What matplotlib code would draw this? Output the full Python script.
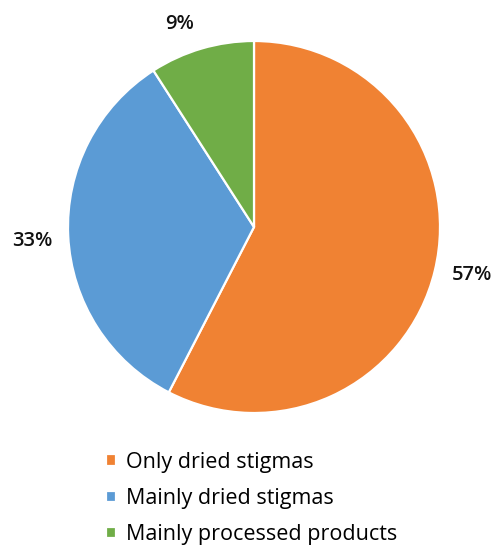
import matplotlib
matplotlib.use("Agg")
import matplotlib.pyplot as plt

categories = ["Only dried stigmas", "Mainly dried stigmas", "Mainly processed products"]
shares = [57, 33, 9]
colors = ["#F08233", "#5B9BD5", "#70AD47"]

plt.rcParams["font.family"] = ["Open Sans", "DejaVu Sans"]

W, H = 495, 548
fig = plt.figure(figsize=(W / 100, H / 100), dpi=100)
cx, cy, R = 254, 227, 186
ax = fig.add_axes([(cx - R) / W, (H - cy - R) / H, 2 * R / W, 2 * R / H])

wedges, _ = ax.pie(
    shares,
    colors=colors,
    startangle=90,
    counterclock=False,
    radius=1.0,
    wedgeprops=dict(edgecolor="white", linewidth=1.6),
)
ax.set_xlim(-1, 1)
ax.set_ylim(-1, 1)
ax.set_aspect("equal")

# percentage labels placed just outside each wedge
label_pos = [(1.17, -0.26), (-1.19, -0.075), (-0.40, 1.09)]
for v, (x, y) in zip(shares, label_pos):
    ax.text(x, y, f"{v}%", ha="center", va="center", fontsize=14.5,
            fontweight="semibold", color="#111111", clip_on=False)

fig.legend(
    wedges, categories,
    loc="upper left", bbox_to_anchor=(106 / W, 1 - 452 / H),
    frameon=False, fontsize=15.5,
    handlelength=0.46, handleheight=0.46, handletextpad=0.45,
    labelspacing=0.7, borderpad=0.0, borderaxespad=0.0,
)

fig.savefig("out.png", dpi=100)
